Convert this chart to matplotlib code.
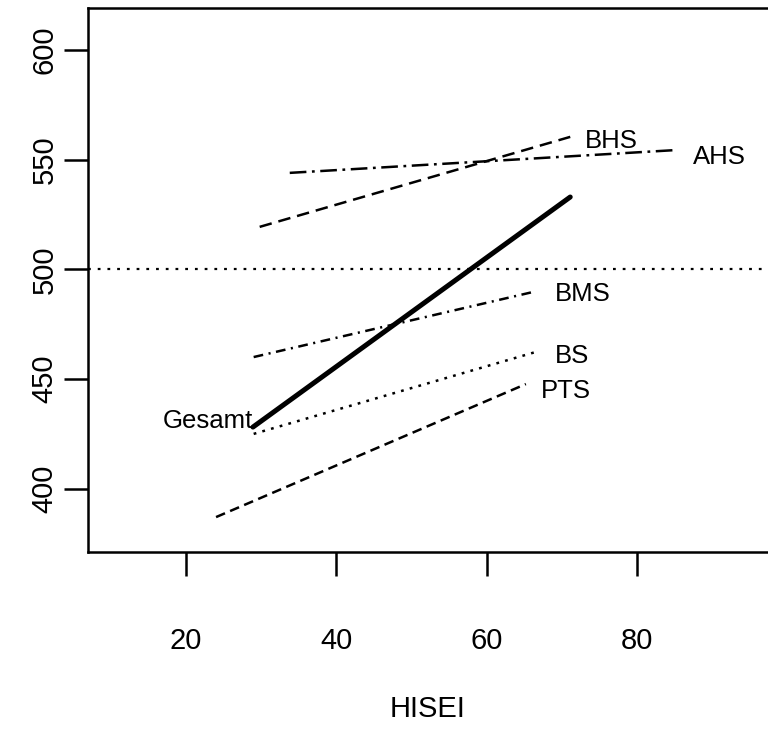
import matplotlib.pyplot as plt

plt.rcParams['font.family'] = ['Liberation Sans', 'DejaVu Sans']
plt.rcParams['lines.scale_dashes'] = False

# regression lines per school type: start/end of HISEI and predicted score
groups = ['Gesamt', 'BHS', 'AHS', 'BMS', 'BS', 'PTS']
x_from = [28.9, 29.8, 33.8, 29.0, 29.0, 24.0]
x_to = [71.1, 71.1, 85.2, 66.1, 66.5, 65.2]
y_from = [428.2, 519.4, 544.0, 460.1, 425.1, 387.2]
y_to = [533.0, 560.4, 554.4, 489.7, 462.4, 447.8]

# label positions
label_x = [22.9, 76.6, 90.9, 72.7, 71.3, 70.5]
label_y = [431.0, 558.5, 551.3, 488.8, 460.6, 444.6]

widths = [3.6, 1.8, 1.8, 1.8, 1.8, 1.8]
dashes = [None, (9, 5), (12, 4, 2, 4), (7, 4, 1.5, 4), (2, 4.5), (7, 4)]

fig = plt.figure(figsize=(7.68, 7.39), dpi=100)
ax = fig.add_axes([88 / 768, 1 - 552 / 739, 1 - 88 / 768, 544 / 739])

ax.axhline(500, color='black', lw=1.6, dashes=(2, 5))

for i in range(len(groups)):
    line, = ax.plot([x_from[i], x_to[i]], [y_from[i], y_to[i]],
                    color='black', lw=widths[i], solid_capstyle='round')
    if dashes[i] is not None:
        line.set_dashes(dashes[i])
    ax.text(label_x[i], label_y[i], groups[i], fontsize=18.5,
            ha='center', va='center')

ax.set_xlim(6.97, 97.4)
ax.set_ylim(371.3, 619.1)
ax.set_xticks([20, 40, 60, 80])
ax.set_yticks([400, 450, 500, 550, 600])
ax.tick_params(axis='x', length=17, width=1.8, pad=37, labelsize=21)
ax.tick_params(axis='y', length=17, width=1.8, pad=4, labelsize=21)
for lab in ax.get_yticklabels():
    lab.set_rotation(90)
    lab.set_va('center')
for s in ax.spines.values():
    s.set_linewidth(1.8)
ax.spines['right'].set_visible(False)

ax.set_xlabel('HISEI', fontsize=21, labelpad=29)

fig.savefig('out.png', dpi=100)
